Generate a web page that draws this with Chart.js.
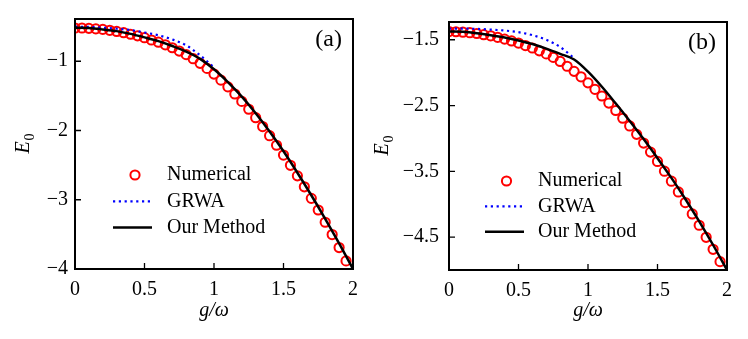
<!DOCTYPE html>
<html lang="en">
<head>
<meta charset="UTF-8">
<title>Ground state energy E0 versus g/omega</title>
<script src="https://cdn.jsdelivr.net/npm/chart.js"></script>
<style>
    body { margin: 0; background: #fff; }
    #wrap { position: relative; width: 748px; height: 339px; }
    .panel { position: absolute; top: 0; width: 374px; height: 339px; }
</style>
</head>
<body>
<div id="wrap">
    <div class="panel" style="left:0"><canvas id="chartA" width="374" height="339"></canvas></div>
    <div class="panel" style="left:374px"><canvas id="chartB" width="374" height="339"></canvas></div>
</div>
<script>
// g/omega values for the numerical points (circles)
const gNum = [0, 0.05, 0.1, 0.15, 0.2, 0.25, 0.3, 0.35, 0.4, 0.45,
              0.5, 0.55, 0.6, 0.65, 0.7, 0.75, 0.8, 0.85, 0.9, 0.95,
              1.0, 1.05, 1.1, 1.15, 1.2, 1.25, 1.3, 1.35, 1.4, 1.45,
              1.5, 1.55, 1.6, 1.65, 1.7, 1.75, 1.8, 1.85, 1.9, 1.95];
// g/omega values for the analytic curves
const gLine = [0, 0.1, 0.2, 0.3, 0.4, 0.5, 0.6, 0.7, 0.8, 0.9, 1.0,
               1.1, 1.2, 1.3, 1.4, 1.5, 1.6, 1.7, 1.8, 1.9, 2.0];
const gGrwaA = [0, 0.1, 0.2, 0.3, 0.4, 0.5, 0.6, 0.7, 0.8, 0.9, 1.0];
const gGrwaB = [0, 0.1, 0.2, 0.3, 0.4, 0.5, 0.6, 0.7, 0.8, 0.9];

// panel (a)
const numA = [-0.52, -0.52, -0.525, -0.533, -0.54, -0.553, -0.57, -0.588, -0.61, -0.633,
              -0.66, -0.693, -0.725, -0.763, -0.805, -0.853, -0.905, -0.963, -1.03, -1.103,
              -1.185, -1.273, -1.37, -1.473, -1.58, -1.693, -1.815, -1.943, -2.075, -2.213,
              -2.355, -2.503, -2.655, -2.813, -2.98, -3.148, -3.325, -3.503, -3.69, -3.883];
const grwaA = [-0.50, -0.505, -0.515, -0.53, -0.55, -0.585, -0.625, -0.685, -0.77, -0.915, -1.09];
const oursA = [-0.515, -0.52, -0.54, -0.565, -0.605, -0.655, -0.71, -0.78, -0.86, -0.965, -1.115,
               -1.30, -1.51, -1.75, -2.015, -2.30, -2.61, -2.935, -3.275, -3.63, -4.0];

// panel (b)
const numB = [-1.375, -1.378, -1.385, -1.393, -1.405, -1.423, -1.44, -1.463, -1.49, -1.518,
              -1.55, -1.588, -1.625, -1.668, -1.715, -1.768, -1.83, -1.903, -1.98, -2.063,
              -2.155, -2.253, -2.355, -2.463, -2.575, -2.693, -2.81, -2.938, -3.07, -3.208,
              -3.35, -3.498, -3.65, -3.813, -3.975, -4.148, -4.32, -4.503, -4.685, -4.873];
const grwaB = [-1.33, -1.33, -1.335, -1.345, -1.36, -1.385, -1.43, -1.50, -1.61, -1.78];
const oursB = [-1.375, -1.38, -1.40, -1.43, -1.465, -1.51, -1.565, -1.635, -1.715, -1.80, -1.985,
               -2.215, -2.47, -2.735, -3.01, -3.30, -3.60, -3.92, -4.26, -4.62, -5.0];

// tick values
const xTicks = [0, 0.5, 1, 1.5, 2];
const yTicksA = [-4, -3, -2, -1];
const yTicksB = [-4.5, -3.5, -2.5, -1.5];

const seriesLabels = ['Numerical', 'GRWA', 'Our Method'];

const FONT = '"Liberation Serif", "Times New Roman", serif';

function pts(xs, ys) {
    return xs.map((x, i) => ({ x: x, y: ys[i] }));
}

function fmt(v) {
    return (v < 0 ? '\u2212' : '') + Math.abs(v);
}

// frame, inward ticks, axis titles, panel letter and legend
const panelDecor = {
    id: 'panelDecor',
    afterDatasetsDraw(chart, args, opt) {
        const { ctx, chartArea: area } = chart;
        const xs = chart.scales.x, ys = chart.scales.y;
        ctx.save();

        ctx.strokeStyle = '#000';
        ctx.lineWidth = 1.3;
        ctx.beginPath();
        xs.ticks.forEach(t => {
            const px = xs.getPixelForValue(t.value);
            ctx.moveTo(px, area.bottom);
            ctx.lineTo(px, area.bottom - 6);
        });
        ys.ticks.forEach(t => {
            const py = ys.getPixelForValue(t.value);
            ctx.moveTo(area.left, py);
            ctx.lineTo(area.left + 6, py);
        });
        ctx.stroke();

        ctx.lineWidth = 2;
        ctx.strokeRect(area.left, area.top, area.right - area.left, area.bottom - area.top);

        ctx.fillStyle = '#000';
        ctx.font = '24px ' + FONT;
        ctx.textAlign = 'right';
        ctx.textBaseline = 'middle';
        ctx.fillText(opt.letter, area.right - 11, area.top + 21);

        // x title
        ctx.font = 'italic 20px ' + FONT;
        ctx.textAlign = 'center';
        ctx.fillText('g/\u03c9', (area.left + area.right) / 2, opt.xTitleY);

        // y title E_0
        ctx.save();
        ctx.translate(opt.yTitleX, (area.top + area.bottom) / 2);
        ctx.rotate(-Math.PI / 2);
        ctx.textAlign = 'left';
        ctx.textBaseline = 'alphabetic';
        ctx.font = 'italic 20px ' + FONT;
        const wE = ctx.measureText('E').width;
        ctx.font = '14px ' + FONT;
        const w0 = ctx.measureText('0').width;
        const start = -(wE + w0) / 2;
        ctx.font = 'italic 20px ' + FONT;
        ctx.fillText('E', start, 0);
        ctx.font = '14px ' + FONT;
        ctx.fillText('0', start + wE + 1, 5);
        ctx.restore();

        // legend
        const lg = opt.legend;
        chart.data.datasets.forEach((ds, i) => {
            const yRow = lg.y + i * lg.gap;
            ctx.save();
            if (ds.showLine === false) {
                ctx.strokeStyle = ds.borderColor;
                ctx.lineWidth = ds.pointBorderWidth;
                ctx.beginPath();
                ctx.arc(lg.markerX, yRow, ds.pointRadius, 0, Math.PI * 2);
                ctx.stroke();
            } else {
                ctx.strokeStyle = ds.borderColor;
                ctx.lineWidth = ds.borderWidth;
                ctx.setLineDash(ds.borderDash || []);
                ctx.beginPath();
                ctx.moveTo(lg.lineX0, yRow);
                ctx.lineTo(lg.lineX1, yRow);
                ctx.stroke();
            }
            ctx.restore();
            ctx.fillStyle = '#000';
            ctx.font = '20px ' + FONT;
            ctx.textAlign = 'left';
            ctx.textBaseline = 'middle';
            ctx.fillText(ds.label, lg.textX, yRow);
        });

        ctx.restore();
    }
};

function makePanel(id, num, grwaX, grwa, ours, yMin, yMax, yTicks, decor, yPad) {
    return new Chart(document.getElementById(id), {
        type: 'line',
        data: {
            datasets: [
                {
                    label: seriesLabels[0],
                    data: pts(gNum, num),
                    showLine: false,
                    borderColor: '#ff0000',
                    backgroundColor: 'rgba(0,0,0,0)',
                    pointRadius: 4.6,
                    pointBorderWidth: 2,
                    borderWidth: 2,
                    order: 3,
                },
                {
                    label: seriesLabels[1],
                    data: pts(grwaX, grwa),
                    borderColor: '#0000ff',
                    borderWidth: 2.2,
                    borderDash: [2.2, 3.6],
                    pointRadius: 0,
                    cubicInterpolationMode: 'monotone',
                    order: 2,
                },
                {
                    label: seriesLabels[2],
                    data: pts(gLine, ours),
                    borderColor: '#000000',
                    borderWidth: 2.5,
                    pointRadius: 0,
                    cubicInterpolationMode: 'monotone',
                    order: 1,
                },
            ],
        },
        options: {
            responsive: false,
            animation: false,
            layout: { padding: { top: 15, right: 21, left: 0, bottom: 0 } },
            plugins: {
                legend: { display: false },
                tooltip: { enabled: false },
                panelDecor: decor,
            },
            scales: {
                x: {
                    type: 'linear',
                    min: 0,
                    max: 2,
                    afterBuildTicks: s => { s.ticks = xTicks.map(v => ({ value: v })); },
                    afterFit: s => { s.height = decor.xAxisH; },
                    grid: { display: false, drawTicks: false },
                    border: { display: false },
                    ticks: {
                        color: '#000',
                        font: { family: FONT, size: 20 },
                        padding: 9,
                        maxRotation: 0,
                        callback: v => fmt(v),
                    },
                },
                y: {
                    type: 'linear',
                    min: yMin,
                    max: yMax,
                    afterBuildTicks: s => { s.ticks = yTicks.map(v => ({ value: v })); },
                    afterFit: s => { s.width = 75; },
                    grid: { display: false, drawTicks: false },
                    border: { display: false },
                    ticks: {
                        color: '#000',
                        font: { family: FONT, size: 20 },
                        padding: yPad,
                        callback: v => fmt(v),
                    },
                },
            },
        },
        plugins: [panelDecor],
    });
}

makePanel('chartA', numA, gGrwaA, grwaA, oursA, -4, -0.39, yTicksA, {
    letter: '(a)',
    xAxisH: 70,
    xTitleY: 311,
    yTitleX: 29,
    legend: { markerX: 135, lineX0: 113, lineX1: 152, textX: 167, y: 175, gap: 26.3 },
}, 7);

makePanel('chartB', numB, gGrwaB, grwaB, oursB, -5, -1.23, yTicksB, {
    letter: '(b)',
    xAxisH: 69,
    xTitleY: 311,
    yTitleX: 14,
    legend: { markerX: 132.5, lineX0: 111, lineX1: 150, textX: 164, y: 181, gap: 25.4 },
}, 10);
</script>
</body>
</html>
